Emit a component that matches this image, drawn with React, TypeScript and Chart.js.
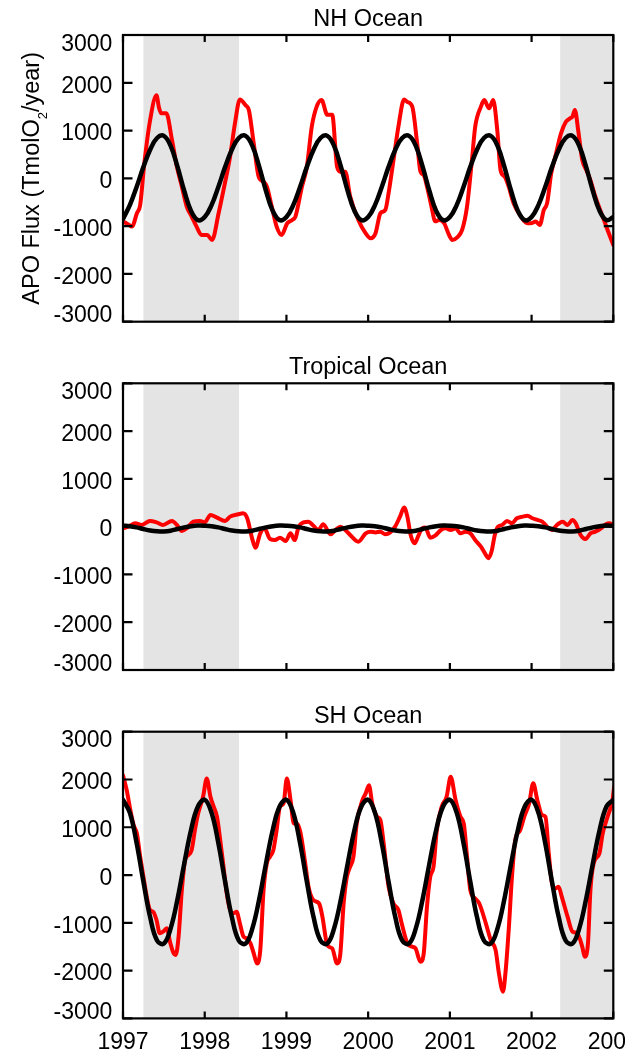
import React, { useEffect, useRef } from "react";
import { Chart, registerables } from "chart.js";

Chart.register(...registerables);

// ---------------- data ----------------
const yTickValues = [-3000, -2000, -1000, 0, 1000, 2000, 3000];
const xTickValues = [1997, 1998, 1999, 2000, 2001, 2002, 2003];
const panelTitles = ["NH Ocean", "Tropical Ocean", "SH Ocean"];
const yAxisTitleParts = ["APO Flux (TmolO", "2", "/year)"];
const shadedStart = [1997.25, 2002.35];
const shadedEnd = [1998.42, 2003.0];

// monthly time axis for the harmonic fits
const fitYears = Array.from({ length: 73 }, (_, i) => 1997 + i / 12);

const nhFit = [
  -850, -560, -180, 240, 605, 845, 890, 680, 245, -265, -685, -875,
  -810, -560, -180, 240, 605, 845, 890, 680, 245, -265, -685, -875,
  -810, -560, -180, 240, 605, 845, 890, 680, 245, -265, -685, -875,
  -810, -560, -180, 240, 605, 845, 890, 680, 245, -265, -685, -875,
  -810, -560, -180, 240, 605, 845, 890, 680, 245, -265, -685, -875,
  -810, -560, -180, 240, 605, 845, 890, 680, 245, -265, -685, -875,
  -810,
];
const tropFit = [
  20, 10, -15, -50, -80, -98, -102, -85, -50, -15, 10, 22,
  20, 10, -15, -50, -80, -98, -102, -85, -50, -15, 10, 22,
  20, 10, -15, -50, -80, -98, -102, -85, -50, -15, 10, 22,
  20, 10, -15, -50, -80, -98, -102, -85, -50, -15, 10, 22,
  20, 10, -15, -50, -80, -98, -102, -85, -50, -15, 10, 22,
  20, 10, -15, -50, -80, -98, -102, -85, -50, -15, 10, 22,
  20,
];
const shFit = [
  1575, 1305, 670, -140, -890, -1370, -1435, -1115, -505, 245, 950, 1435,
  1575, 1305, 670, -140, -890, -1370, -1435, -1115, -505, 245, 950, 1435,
  1575, 1305, 670, -140, -890, -1370, -1435, -1115, -505, 245, 950, 1435,
  1575, 1305, 670, -140, -890, -1370, -1435, -1115, -505, 245, 950, 1435,
  1575, 1305, 670, -140, -890, -1370, -1435, -1115, -505, 245, 950, 1435,
  1575, 1305, 670, -140, -890, -1370, -1435, -1115, -505, 245, 950, 1435,
  1575,
];

const nhObsYears = [
  1997.0, 1997.06, 1997.11, 1997.17, 1997.21, 1997.26, 1997.33, 1997.41, 1997.44, 1997.47,
  1997.53, 1997.6, 1997.66, 1997.72, 1997.78, 1997.84, 1997.9, 1997.96, 1998.03, 1998.09,
  1998.17, 1998.23, 1998.31, 1998.37, 1998.43, 1998.5, 1998.54, 1998.6, 1998.66, 1998.72,
  1998.76, 1998.82, 1998.88, 1998.94, 1999.01, 1999.07, 1999.11, 1999.19, 1999.25, 1999.31,
  1999.37, 1999.43, 1999.5, 1999.56, 1999.62, 1999.66, 1999.72, 1999.78, 1999.88, 1999.97,
  2000.03, 2000.09, 2000.15, 2000.21, 2000.25, 2000.31, 2000.37, 2000.44, 2000.48, 2000.54,
  2000.6, 2000.64, 2000.68, 2000.72, 2000.78, 2000.82, 2000.87, 2000.93, 2000.99, 2001.03,
  2001.09, 2001.15, 2001.21, 2001.27, 2001.31, 2001.38, 2001.42, 2001.48, 2001.53, 2001.58,
  2001.62, 2001.67, 2001.72, 2001.78, 2001.87, 2001.93, 2001.99, 2002.05, 2002.1, 2002.15,
  2002.19, 2002.24, 2002.29, 2002.36, 2002.42, 2002.47, 2002.5, 2002.53, 2002.57, 2002.62,
  2002.67, 2002.72, 2002.78, 2002.87, 2002.93, 2003.0,
];
const nhObsFlux = [
  -900, -960, -1010, -730, -560, 300, 1200, 1740, 1480, 1360,
  1360, 800, 240, -170, -590, -800, -1010, -1185, -1185, -1290,
  -730, -240, 450, 1150, 1650, 1530, 1430, 730, 35, -70,
  -170, -590, -1010, -1185, -940, -870, -800, -170, 240, 1080,
  1500, 1640, 1330, 1330, 240, 140, 140, -380, -870, -1150,
  -1255, -1150, -730, -660, -310, 380, 1080, 1650, 1600, 1500,
  730, 140, 70, -170, -630, -900, -870, -940, -1185, -1290,
  -1235, -1080, -590, 380, 1080, 1500, 1640, 1465, 1640, 1010,
  175, 35, -175, -520, -800, -925, -940, -905, -975, -660,
  -520, 105, 450, 940, 1185, 1255, 1290, 1430, 1010, 385,
  175, -35, -385, -800, -1080, -1395,
];

const tropObsYears = [
  1997.0, 1997.065, 1997.15, 1997.23, 1997.33, 1997.41, 1997.49, 1997.6, 1997.66, 1997.72,
  1997.78, 1997.86, 1997.94, 1998.0, 1998.07, 1998.15, 1998.25, 1998.31, 1998.41, 1998.47,
  1998.52, 1998.58, 1998.62, 1998.68, 1998.73, 1998.8, 1998.86, 1998.92, 1998.99, 1999.05,
  1999.1, 1999.15, 1999.21, 1999.27, 1999.33, 1999.39, 1999.45, 1999.54, 1999.6, 1999.66,
  1999.72, 1999.78, 1999.88, 1999.97, 2000.03, 2000.09, 2000.15, 2000.21, 2000.27, 2000.33,
  2000.39, 2000.44, 2000.48, 2000.52, 2000.57, 2000.61, 2000.66, 2000.7, 2000.76, 2000.82,
  2000.89, 2000.95, 2001.01, 2001.07, 2001.13, 2001.19, 2001.25, 2001.31, 2001.38, 2001.44,
  2001.47, 2001.51, 2001.55, 2001.59, 2001.64, 2001.7, 2001.76, 2001.82, 2001.89, 2001.95,
  2002.01, 2002.07, 2002.13, 2002.19, 2002.25, 2002.31, 2002.38, 2002.44, 2002.5, 2002.54,
  2002.6, 2002.66, 2002.72, 2002.78, 2002.85, 2002.91, 2002.95, 2003.0,
];
const tropObsFlux = [
  -35, 0, 70, 35, 120, 90, 35, 120, 35, -90,
  -35, 105, 120, 90, 245, 190, 120, 210, 260, 280,
  175, -245, -440, -140, -35, -260, -280, -230, -300, -140,
  -280, 0, 90, 105, 20, -70, 50, -160, -70, 0,
  -70, -175, -315, -140, -105, -120, -105, -160, -120, 0,
  210, 400, 210, -175, -350, -210, -35, -20, -230, -190,
  -70, -35, -70, -35, -140, -105, -140, -280, -420, -590,
  -660, -520, -175, 0, 35, 120, 70, 175, 210, 230,
  175, 140, 105, 0, -70, 35, 105, 35, 140, 70,
  -175, -260, -140, -105, -35, 50, 70, 35,
];

const shObsYears = [
  1997.0, 1997.045, 1997.09, 1997.13, 1997.17, 1997.21, 1997.25, 1997.29, 1997.33, 1997.37,
  1997.41, 1997.45, 1997.49, 1997.535, 1997.58, 1997.62, 1997.645, 1997.68, 1997.72, 1997.76,
  1997.8, 1997.84, 1997.88, 1997.92, 1997.98, 1998.025, 1998.07, 1998.11, 1998.15, 1998.19,
  1998.23, 1998.27, 1998.31, 1998.35, 1998.39, 1998.43, 1998.475, 1998.515, 1998.56, 1998.6,
  1998.64, 1998.68, 1998.72, 1998.76, 1998.8, 1998.84, 1998.88, 1998.92, 1998.965, 1999.005,
  1999.05, 1999.09, 1999.13, 1999.17, 1999.23, 1999.27, 1999.33, 1999.4, 1999.44, 1999.5,
  1999.56, 1999.62, 1999.66, 1999.7, 1999.74, 1999.78, 1999.82, 1999.86, 1999.93, 1999.97,
  2000.01, 2000.05, 2000.11, 2000.15, 2000.19, 2000.25, 2000.31, 2000.37, 2000.41, 2000.48,
  2000.54, 2000.58, 2000.64, 2000.68, 2000.72, 2000.76, 2000.8, 2000.84, 2000.9, 2000.96,
  2001.01, 2001.07, 2001.13, 2001.17, 2001.21, 2001.25, 2001.31, 2001.36, 2001.44, 2001.5,
  2001.56, 2001.6, 2001.65, 2001.68, 2001.72, 2001.76, 2001.8, 2001.86, 2001.91, 2001.97,
  2002.02, 2002.07, 2002.13, 2002.17, 2002.21, 2002.25, 2002.29, 2002.33, 2002.37, 2002.44,
  2002.5, 2002.56, 2002.62, 2002.65, 2002.69, 2002.72, 2002.76, 2002.83, 2002.87, 2002.93,
  2002.99, 2003.01,
];
const shObsFlux = [
  2090, 1780, 1360, 1045, 870, 385, -35, -450, -730, -770,
  -940, -1220, -1185, -1115, -1430, -1640, -1675, -1290, -315, 315,
  420, 525, 940, 1290, 1640, 2020, 1640, 1430, 1220, 730,
  175, -385, -730, -800, -770, -1010, -1290, -1325, -1430, -1640,
  -1850, -1570, -315, 245, 385, 525, 940, 1430, 1500, 2020,
  1570, 1080, 1080, 900, 245, -245, -525, -595, -870, -1465,
  -1535, -1850, -1640, -595, -35, 175, 385, 1080, 1570, 1710,
  1880, 1500, 1220, 1150, 660, -245, -595, -730, -1010, -1430,
  -1500, -1535, -1815, -1640, -660, -35, 175, 940, 1430, 1640,
  2055, 1570, 1220, 1080, 385, -315, -490, -595, -1010, -1360,
  -1570, -2055, -2440, -2055, -1150, -35, 730, 940, 1220, 1500,
  1920, 1570, 1255, 1220, 455, -175, -280, -245, -455, -870,
  -1185, -1220, -1500, -1710, -1430, -315, 245, 455, 870, 1220,
  1570, 1850,
];

// ---------------- layout / style ----------------
const W = 625;
const H = 1054;
const PLOT_LEFT = 123;
const PLOT_RIGHT = 613.3;
const PANEL_TOP = [35, 383.3, 731.7];
const PANEL_H = 286.7;
const FONT = '"Liberation Sans", Arial, Helvetica, sans-serif';
const TICK_FONT_PX = 23;
const TITLE_FONT_PX = 23.5;

const panels = [
  { fit: nhFit, obsX: nhObsYears, obsY: nhObsFlux },
  { fit: tropFit, obsX: tropObsYears, obsY: tropObsFlux },
  { fit: shFit, obsX: shObsYears, obsY: shObsFlux },
];

function makeDecor(panel: number) {
  return {
    id: "decor" + panel,
    beforeDatasetsDraw(chart: any) {
      const { ctx, chartArea: a } = chart;
      const x = chart.scales.x;
      ctx.save();
      ctx.fillStyle = "#e4e4e4";
      for (let i = 0; i < shadedStart.length; i++) {
        const x0 = x.getPixelForValue(shadedStart[i]);
        const x1 = x.getPixelForValue(shadedEnd[i]);
        ctx.fillRect(x0, a.top, x1 - x0, a.bottom - a.top);
      }
      ctx.restore();
    },
    afterDraw(chart: any) {
      const { ctx, chartArea: a } = chart;
      const x = chart.scales.x;
      const y = chart.scales.y;
      ctx.save();
      ctx.strokeStyle = "#000";
      ctx.lineWidth = 2.2;
      ctx.strokeRect(a.left, a.top, a.right - a.left, a.bottom - a.top);

      // inward tick marks
      ctx.beginPath();
      for (const v of yTickValues) {
        const py = y.getPixelForValue(v);
        ctx.moveTo(a.left, py);
        ctx.lineTo(a.left + 9.5, py);
        ctx.moveTo(a.right, py);
        ctx.lineTo(a.right - 9.5, py);
      }
      for (const v of xTickValues) {
        const px = x.getPixelForValue(v);
        ctx.moveTo(px, a.top);
        ctx.lineTo(px, a.top + 7);
        ctx.moveTo(px, a.bottom);
        ctx.lineTo(px, a.bottom - 7);
      }
      ctx.stroke();

      // y tick labels
      ctx.fillStyle = "#000";
      ctx.font = `${TICK_FONT_PX}px ${FONT}`;
      ctx.textAlign = "right";
      ctx.textBaseline = "alphabetic";
      const capHalf = (0.716 * TICK_FONT_PX) / 2;
      for (const v of yTickValues) {
        const py = y.getPixelForValue(v);
        const c = Math.min(Math.max(py + 1.5, a.top + 7.5), a.bottom - 7.5);
        ctx.fillText(String(v), a.left - 10.7, c + capHalf);
      }

      // x tick labels (bottom panel only)
      if (panel === 2) {
        ctx.textAlign = "center";
        for (const v of xTickValues) {
          const px = x.getPixelForValue(v);
          ctx.fillText(String(v), px, a.bottom + 30.7);
        }
      }

      // panel title
      ctx.font = `${TITLE_FONT_PX}px ${FONT}`;
      ctx.textAlign = "center";
      ctx.fillText(panelTitles[panel], (a.left + a.right) / 2, a.top - 9);

      // y-axis title (top panel only)
      if (panel === 0) {
        const mainFont = `${TITLE_FONT_PX}px ${FONT}`;
        const subFont = `13px ${FONT}`;
        ctx.font = mainFont;
        const w1 = ctx.measureText(yAxisTitleParts[0]).width;
        const w3 = ctx.measureText(yAxisTitleParts[2]).width;
        ctx.font = subFont;
        const w2 = ctx.measureText(yAxisTitleParts[1]).width;
        const total = w1 + w2 + w3;
        ctx.translate(39.3, (a.top + a.bottom) / 2);
        ctx.rotate(-Math.PI / 2);
        ctx.textAlign = "left";
        let cx = -total / 2;
        ctx.font = mainFont;
        ctx.fillText(yAxisTitleParts[0], cx, 0);
        cx += w1;
        ctx.font = subFont;
        ctx.fillText(yAxisTitleParts[1], cx, 8);
        cx += w2;
        ctx.font = mainFont;
        ctx.fillText(yAxisTitleParts[2], cx, 0);
      }
      ctx.restore();
    },
  };
}

export default function App() {
  const refs = [useRef<HTMLCanvasElement>(null), useRef<HTMLCanvasElement>(null), useRef<HTMLCanvasElement>(null)];

  useEffect(() => {
    const charts: Chart[] = [];
    panels.forEach((p, i) => {
      const canvas = refs[i].current;
      if (!canvas) return;
      const chart = new Chart(canvas, {
        type: "line",
        data: {
          datasets: [
            {
              label: "harmonic fit",
              data: fitYears.map((t, k) => ({ x: t, y: p.fit[k] })),
              borderColor: "#000000",
              borderWidth: 4.5,
              pointRadius: 0,
              tension: 0.4,
              fill: false,
              order: 0,
              borderCapStyle: "round",
              borderJoinStyle: "round",
            },
            {
              label: "observed",
              data: p.obsX.map((t, k) => ({ x: t, y: p.obsY[k] })),
              borderColor: "#ff0000",
              borderWidth: 4,
              pointRadius: 0,
              cubicInterpolationMode: "monotone",
              fill: false,
              order: 1,
              borderCapStyle: "round",
              borderJoinStyle: "round",
            },
          ],
        } as any,
        options: {
          responsive: false,
          animation: false,
          devicePixelRatio: 1,
          events: [],
          layout: {
            padding: {
              left: PLOT_LEFT,
              right: W - PLOT_RIGHT,
              top: PANEL_TOP[i],
              bottom: H - PANEL_TOP[i] - PANEL_H,
            },
          },
          plugins: {
            legend: { display: false },
            tooltip: { enabled: false },
            title: { display: false },
          },
          scales: {
            x: { type: "linear", min: 1997, max: 2003, display: false, ticks: { stepSize: 1 } },
            y: { type: "linear", min: -3000, max: 3000, display: false, ticks: { stepSize: 1000 } },
          },
        } as any,
        plugins: [makeDecor(i)],
      });
      charts.push(chart);
    });
    return () => charts.forEach((c) => c.destroy());
  }, []);

  return (
    <div style={{ position: "absolute", left: 0, top: 0, width: W, height: H, background: "#fff", overflow: "hidden" }}>
      {refs.map((r, i) => (
        <canvas
          key={i}
          ref={r}
          width={W}
          height={H}
          style={{ position: "absolute", left: 0, top: 0, width: W, height: H }}
        />
      ))}
    </div>
  );
}
